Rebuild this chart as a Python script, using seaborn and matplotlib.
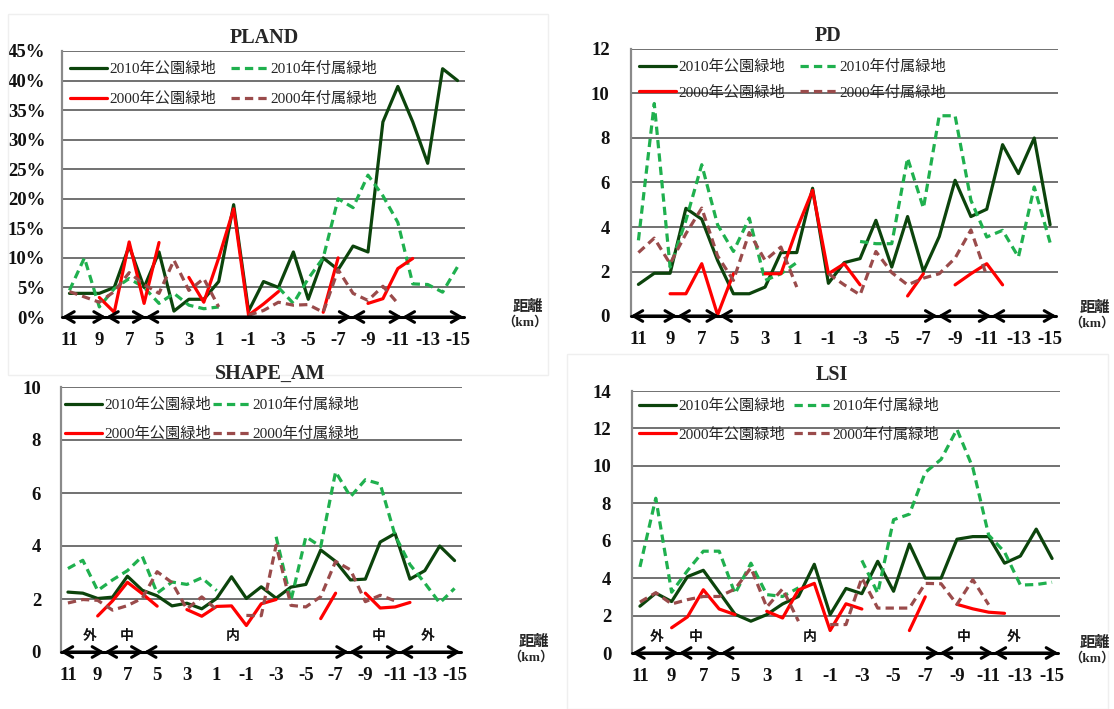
import numpy as np
import pandas as pd
import matplotlib
matplotlib.use("Agg")
import matplotlib.pyplot as plt
from matplotlib.lines import Line2D
from matplotlib.patches import Rectangle
import seaborn as sns

nan = np.nan

# Distance rings from the centre (km), outer north side to outer south side
distance = list(range(11, -16, -1))
tick_labels = [str(d) for d in distance[::2]]

series_names = ["2010年公園緑地", "2010年付属緑地", "2000年公園緑地", "2000年付属緑地"]

# PLAND (%)
pland_2010_park = [4, 4, 4, 5, 12, 5, 11, 1, 3, 3, 6, 19, 1, 6, 5, 11, 3, 10, 8, 12, 11, 33, 39, 33, 26, 42, 40]
pland_2010_attached = [4.5, 10, 1.7, 4.8, 6.5, 5, 2.3, 4, 2, 1.4, 1.7, nan, nan, nan, 5, 2.3, 6.5, 10, 20, 18.5, 24, 20.5, 16, 5.6, 5.5, 4.2, 8.5]
pland_2000_park = [nan, nan, 3.3, 0.8, 12.7, 2.3, 12.6, nan, 6.7, 2.5, 10, 18.3, 0.3, 2.2, 4.3, nan, nan, 0.8, 10, nan, 2.3, 3.1, 8.2, 9.9, nan, nan, nan]
pland_2000_attached = [4.3, 3.4, 2.5, 4.3, 7.5, 5.5, 4, 9.6, 4.5, 6.5, 1.7, nan, 0.3, 1.1, 2.5, 2, 2.1, 0.8, 8, 4, 2.8, 5.2, 2.3, nan, nan, nan, nan]

# PD
pd_2010_park = [1.42, 1.92, 1.92, 4.84, 4.35, 2.5, 1.0, 1.0, 1.3, 2.85, 2.85, 5.74, 1.47, 2.4, 2.58, 4.3, 2.2, 4.47, 2.0, 3.57, 6.1, 4.47, 4.8, 7.7, 6.4, 8.0, 4.1]
pd_2010_attached = [3.4, 9.55, 2.2, 4.3, 6.8, 4.1, 2.9, 4.4, 1.6, 1.9, 2.4, nan, nan, nan, 3.35, 3.25, 3.25, 7.1, 4.85, 9.0, 9.0, 5.2, 3.55, 3.85, 2.65, 5.8, 3.3]
pd_2000_park = [nan, nan, 1.0, 1.0, 2.35, 0.05, 1.9, nan, 1.9, 1.9, 3.9, 5.65, 1.9, 2.35, 1.4, nan, nan, 0.9, 1.9, nan, 1.4, 1.9, 2.35, 1.4, nan, nan, nan]
pd_2000_attached = [2.85, 3.5, 2.35, 3.7, 4.85, 2.7, 1.6, 3.75, 2.5, 3.1, 1.3, nan, 1.9, 1.4, 0.95, 2.9, 1.95, 1.4, 1.7, 1.9, 2.6, 3.87, 1.8, nan, nan, nan, nan]

# SHAPE_AM
shape_2010_park = [2.26, 2.22, 2.02, 2.07, 2.86, 2.33, 2.12, 1.74, 1.84, 1.63, 2.02, 2.84, 2.02, 2.46, 2.03, 2.45, 2.55, 3.85, 3.42, 2.72, 2.75, 4.15, 4.47, 2.75, 3.07, 4.0, 3.45]
shape_2010_attached = [3.15, 3.46, 2.32, 2.72, 3.07, 3.61, 2.22, 2.64, 2.55, 2.8, 2.32, nan, nan, nan, 4.35, 1.95, 4.35, 3.98, 6.8, 5.86, 6.5, 6.34, 4.4, 3.3, 2.6, 1.85, 2.4]
shape_2000_park = [nan, nan, 1.36, 1.93, 2.63, 2.2, 1.73, nan, 1.6, 1.35, 1.72, 1.74, 1.0, 1.82, 1.98, nan, nan, 1.26, 2.22, nan, 2.22, 1.66, 1.7, 1.87, nan, nan, nan]
shape_2000_attached = [1.85, 1.98, 1.95, 1.58, 1.75, 2.03, 3.03, 2.62, 1.62, 2.08, 1.6, nan, 1.38, 1.37, 4.03, 1.76, 1.7, 2.09, 3.42, 3.1, 1.9, 2.14, 1.93, nan, nan, nan, nan]

# LSI
lsi_2010_park = [2.5, 3.2, 2.75, 4.08, 4.42, 3.25, 2.07, 1.7, 2.05, 2.62, 3.02, 4.74, 2.05, 3.45, 3.17, 4.9, 3.3, 5.82, 4.0, 4.0, 6.08, 6.22, 6.22, 4.8, 5.18, 6.62, 5.05]
lsi_2010_attached = [4.6, 8.27, 3.25, 4.4, 5.44, 5.44, 3.17, 4.8, 3.12, 3.02, 3.48, nan, nan, nan, 4.95, 3.2, 7.12, 7.42, 9.65, 10.35, 11.95, 9.9, 6.3, 5.4, 3.63, 3.66, 3.78]
lsi_2000_park = [nan, nan, 1.35, 1.93, 3.38, 2.35, 2.05, nan, 2.23, 1.87, 3.37, 3.72, 1.2, 2.63, 2.35, nan, nan, 1.2, 3.0, nan, 2.6, 2.36, 2.18, 2.12, nan, nan, nan]
lsi_2000_attached = [2.72, 3.22, 2.62, 2.85, 3.02, 3.02, 3.42, 4.55, 2.45, 3.43, 1.7, nan, 1.52, 1.52, 4.02, 2.4, 2.4, 2.4, 3.72, 3.7, 2.6, 3.92, 2.58, nan, nan, nan, nan]

# Zone boundaries along the distance axis (position index) and zone names
zone_bounds = [-0.5, 2.45, 5.1, 18.9, 22.3, 26.4]
zone_names = ["外", "中", "内", "中", "外"]

colors = {series_names[0]: "#0c440c", series_names[1]: "#1fb04e",
          series_names[2]: "#ff0000", series_names[3]: "#9a4b4b"}
dash_spec = {series_names[0]: "", series_names[1]: (2.6, 1.6),
             series_names[2]: "", series_names[3]: (2.6, 1.6)}
LW = 2.3

W, H = 1114, 709

sns.set_theme(style="white")
plt.rcParams["font.family"] = ["Liberation Serif", "Noto Sans CJK JP"]
plt.rcParams["axes.unicode_minus"] = False

fig = plt.figure(figsize=(W / 100, H / 100), dpi=100)
fig.patch.set_facecolor("white")


def px_rect(l, r, t, b):
    return [l / W, 1 - b / H, (r - l) / W, (b - t) / H]


def fx(x):
    return x / W


def fy(y):
    return 1 - y / H


def long_frame(values_by_series):
    rows = []
    for name, vals in zip(series_names, values_by_series):
        seg = 0
        prev_nan = True
        for pos, v in enumerate(vals):
            if np.isnan(v):
                prev_nan = True
                continue
            if prev_nan:
                seg += 1
                prev_nan = False
            rows.append({"pos": pos, "value": v, "series": name, "seg": seg})
    return pd.DataFrame(rows)


panels = [
    dict(title="PLAND", rect=(62, 465, 51, 317), title_xy=(264, 38),
         values=[pland_2010_park, pland_2010_attached, pland_2000_park, pland_2000_attached],
         yticks=list(range(0, 50, 5)), fmt="{}%", legend_xy=(70, 62), colsp=1.0,
         rowsp=1.05, zones=None, km_xy=(528, 306), ypad=12),
    dict(title="PD", rect=(630.5, 1058, 49, 316), title_xy=(828, 36),
         values=[pd_2010_park, pd_2010_attached, pd_2000_park, pd_2000_attached],
         yticks=list(range(0, 14, 2)), fmt="{}", legend_xy=(639, 60), colsp=1.0,
         rowsp=0.75, zones=None, km_xy=(1095, 307), ypad=15),
    dict(title="SHAPE_AM", rect=(60.5, 462, 387, 652), title_xy=(270, 374),
         values=[shape_2010_park, shape_2010_attached, shape_2000_park, shape_2000_attached],
         yticks=list(range(0, 12, 2)), fmt="{}", legend_xy=(65, 398), colsp=0.15,
         rowsp=1.0, zones=[1.45, 3.95, 11.1, 20.9, 24.2], km_xy=(534, 641), ypad=14),
    dict(title="LSI", rect=(632, 1060, 391, 653), title_xy=(832, 375),
         values=[lsi_2010_park, lsi_2010_attached, lsi_2000_park, lsi_2000_attached],
         yticks=list(range(0, 16, 2)), fmt="{}", legend_xy=(639, 399), colsp=0.6,
         rowsp=0.95, zones=[1.05, 3.55, 10.7, 20.4, 23.6], km_xy=(1095, 642), ypad=15),
]

# faint chart-area frames
fig.add_artist(Rectangle((fx(8), fy(375)), fx(548) - fx(8), fy(14) - fy(375),
                         transform=fig.transFigure, fill=False, ec="#efefef", lw=1.0))
fig.add_artist(Rectangle((fx(567), fy(709)), fx(1108) - fx(567), fy(354) - fy(709),
                         transform=fig.transFigure, fill=False, ec="#efefef", lw=1.0))

for p in panels:
    ax = fig.add_axes(px_rect(*p["rect"]))
    ax.set_facecolor("none")
    df = long_frame(p["values"])
    sns.lineplot(data=df, x="pos", y="value", hue="series", style="series",
                 units="seg", estimator=None, sort=False, palette=colors,
                 dashes=dash_spec, linewidth=LW, legend=False, ax=ax, zorder=3)

    ymax = p["yticks"][-1]
    ax.set_xlim(-0.5, 26.5)
    ax.set_ylim(0, ymax)
    ax.set_yticks(p["yticks"])
    ax.set_yticklabels([p["fmt"].format(v) for v in p["yticks"]],
                       fontsize=13.5, fontweight="bold", family="Liberation Serif")
    ax.set_xticks(range(0, 27, 2))
    ax.set_xticklabels(tick_labels, fontsize=13.5, fontweight="bold",
                       family="Liberation Serif")
    ax.tick_params(axis="y", length=0, pad=p["ypad"], colors="#111111")
    ax.tick_params(axis="x", length=0, pad=11, colors="#111111")
    ax.set_xlabel("")
    ax.set_ylabel("")
    ax.grid(False)
    for v in p["yticks"][1:]:
        ax.axhline(v, color="#4a4a4a", lw=1.1, zorder=1)
    for side in ["top", "right", "bottom"]:
        ax.spines[side].set_visible(False)
    ax.spines["left"].set_color("#8a8a8a")
    ax.spines["left"].set_linewidth(1.6)

    # zone arrows along the distance axis
    for x0, x1 in zip(zone_bounds[:-1], zone_bounds[1:]):
        ax.annotate("", xy=(x1, 0), xytext=(x0, 0), xycoords="data",
                    arrowprops=dict(arrowstyle="<->,head_length=0.55,head_width=0.32",
                                    lw=2.2, color="black", shrinkA=0, shrinkB=0),
                    annotation_clip=False, zorder=4)
    ax.plot([-0.5, 26.4], [0, 0], color="black", lw=2.2, clip_on=False, zorder=4)

    if p["zones"]:
        for x, name in zip(p["zones"], zone_names):
            ax.text(x, 0.06, name, transform=ax.get_xaxis_transform(),
                    ha="center", va="center", fontsize=10, fontweight="bold",
                    family="Noto Sans CJK JP", color="#111111", zorder=5)

    handles = [Line2D([], [], color=colors[n], lw=LW,
                      linestyle="-" if dash_spec[n] == "" else (0, dash_spec[n]))
               for n in [series_names[0], series_names[2], series_names[1], series_names[3]]]
    labels = [series_names[0], series_names[2], series_names[1], series_names[3]]
    lx, ly = p["legend_xy"]
    ax.legend(handles, labels, ncol=2, loc="upper left",
              bbox_to_anchor=(fx(lx), fy(ly)), bbox_transform=fig.transFigure,
              frameon=False, borderpad=0, borderaxespad=0, handlelength=2.4,
              handletextpad=0.15, columnspacing=p["colsp"], labelspacing=p["rowsp"],
              prop=dict(family=["Liberation Serif", "Noto Sans CJK JP"], size=11))

    tx, ty = p["title_xy"]
    fig.text(fx(tx), fy(ty), p["title"], ha="center", va="center",
             fontsize=14.5, fontweight="bold", family="Liberation Serif")

    kx, ky = p["km_xy"]
    fig.text(fx(kx), fy(ky), "距離", ha="center", va="center", fontsize=11,
             fontweight="bold", family="Noto Sans CJK JP",
             bbox=dict(fc="white", ec="none", pad=1))
    fig.text(fx(kx - 3), fy(ky + 16), "（km）", ha="center", va="center", fontsize=9.5,
             fontweight="bold", family=["Liberation Serif", "Noto Sans CJK JP"])

fig.savefig("out.png", dpi=100, facecolor="white")
